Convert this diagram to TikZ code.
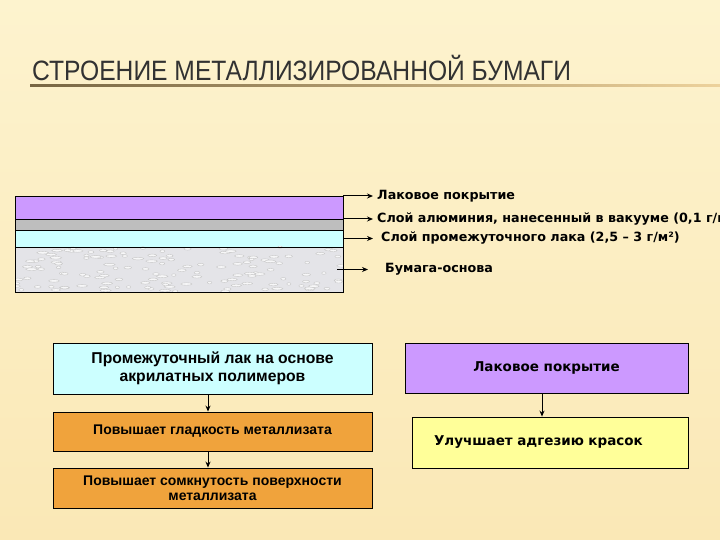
\documentclass[tikz,border=0pt]{standalone}
\usepackage{fontspec}
\setmainfont{DejaVu Sans}
\newfontfamily\titlefont[FakeStretch=0.88]{Liberation Sans}
\newfontfamily\arialfont{Liberation Sans}
\usepackage{tikz}
\usetikzlibrary{arrows,arrows.meta,shapes,positioning}
\usepackage{xcolor}
\definecolor{bgcream}{RGB}{250,232,182}
\definecolor{bgcreamtop}{RGB}{253,243,206}
\definecolor{titlegray}{RGB}{50,50,50}
\definecolor{linegold}{RGB}{225,180,90}
\definecolor{lakviolet}{RGB}{204,153,255}
\definecolor{alugray}{RGB}{190,190,190}
\definecolor{promcyan}{RGB}{204,255,255}
\definecolor{papergray}{RGB}{228,228,232}
\definecolor{boxorange}{RGB}{240,163,60}
\definecolor{boxyellow}{RGB}{255,255,153}
\tikzstyle{arrow} = [line width=1pt,->,>={Stealth[length=6pt,width=5pt]},color=black]
\tikzstyle{layer} = [rectangle, draw=black, line width=0.8pt, minimum width=328pt, inner sep=0pt, outer sep=0pt]
\tikzstyle{layertext} = [anchor=west, inner xsep=4pt, inner ysep=1pt, font=\bfseries\fontsize{12.7}{14}\selectfont]
\tikzstyle{box} = [rectangle, draw=black, line width=0.8pt, align=center, inner sep=2pt]

\begin{document}
\begin{tikzpicture}[x=1pt, y=1pt, node distance=63pt]
\useasboundingbox (0,0) rectangle (720,540);
\shade[top color=bgcreamtop, bottom color=bgcream] (0,0) rectangle (720,540);

% Title
\node (title) [anchor=base west, inner sep=0pt, text=titlegray, font=\titlefont\fontsize{28}{30}\selectfont] at (32,459) {СТРОЕНИЕ МЕТАЛЛИЗИРОВАННОЙ БУМАГИ};
\shade[left color=titlegray!60!linegold, right color=linegold!60] (30,453.5) rectangle (720,455);

% Layers of the paper
\node (lak) [layer, fill=lakviolet, minimum height=23pt] at (179,332.5) {};
\node (alu) [layer, fill=alugray, minimum height=11pt, below=0pt of lak] {};
\node (prom) [layer, fill=promcyan, minimum height=17pt, below=0pt of alu] {};
\node (osn) [layer, fill=papergray, minimum height=45pt, below=0pt of prom] {};

% paper texture
\begin{scope}
\clip (osn.south west) rectangle (osn.north east);
\pgfmathsetseed{7}
\foreach \i in {1,...,140} {
  \pgfmathsetmacro{\rx}{15+328*rnd}
  \pgfmathsetmacro{\ry}{248+45*rnd}
  \pgfmathsetmacro{\rw}{2+4*rnd}
  \draw[gray!45, line width=0.4pt, fill=white!70!papergray] (\rx,\ry) ellipse ({\rw pt} and 1.3pt);
}
\end{scope}
\draw[line width=0.8pt] (osn.south west) rectangle (osn.north east);

% Layer labels
\node (t1) [layertext, right=30pt of lak.north east] {Лаковое покрытие};
\node (t2) [layertext, right=30pt of lak.south east] {Слой алюминия, нанесенный в вакууме (0,1 г/м²)};
\node (t3) [layertext, right=34pt of prom.east] {Слой промежуточного лака (2,5 – 3 г/м²)};
\node (t4) [layertext, right=38pt of osn.east] {Бумага-основа};

\draw[arrow] (lak.north east) -- (t1);
\draw[arrow] (lak.south east) -- (t2);
\draw[arrow, shorten >=4pt] (prom.east) -- (t3);
\draw[arrow, shorten >=13pt] ([xshift=-6pt]osn.east) -- (t4);

% Left column
\node (prl) [box, fill=promcyan, minimum width=319pt, minimum height=51pt, font=\arialfont\bfseries\fontsize{15.7}{18}\selectfont] at (212.5,171.5) {Промежуточный лак на основе\\акрилатных полимеров};
\node (gld) [box, fill=boxorange, minimum width=319pt, minimum height=39pt, below of=prl, font=\arialfont\bfseries\fontsize{14}{15}\selectfont] {Повышает гладкость металлизата};
\node (smk) [box, fill=boxorange, minimum width=319pt, minimum height=40pt, below of=gld, node distance=56.5pt, font=\arialfont\bfseries\fontsize{14}{15}\selectfont] {Повышает сомкнутость поверхности\\металлизата};

\draw[arrow] ([xshift=-4.5pt]prl.south) -- ([xshift=-4.5pt]gld.north);
\draw[arrow] ([xshift=-4.5pt]gld.south) -- ([xshift=-4.5pt]smk.north);

% Right column
\node (lkp) [box, fill=lakviolet, minimum width=283pt, minimum height=50pt, font=\bfseries\fontsize{13.5}{15}\selectfont] at (546.5,172) {Лаковое покрытие};
\node (adg) [box, fill=boxyellow, minimum height=51pt, text width=232pt, inner xsep=22pt, align=left, font=\bfseries\fontsize{13.5}{15}\selectfont] at (550,97.5) {Улучшает адгезию красок};

\draw[arrow] ([xshift=-4.5pt]lkp.south) -- ([xshift=-4.5pt]lkp.south |- adg.north);
\end{tikzpicture}
\end{document}
